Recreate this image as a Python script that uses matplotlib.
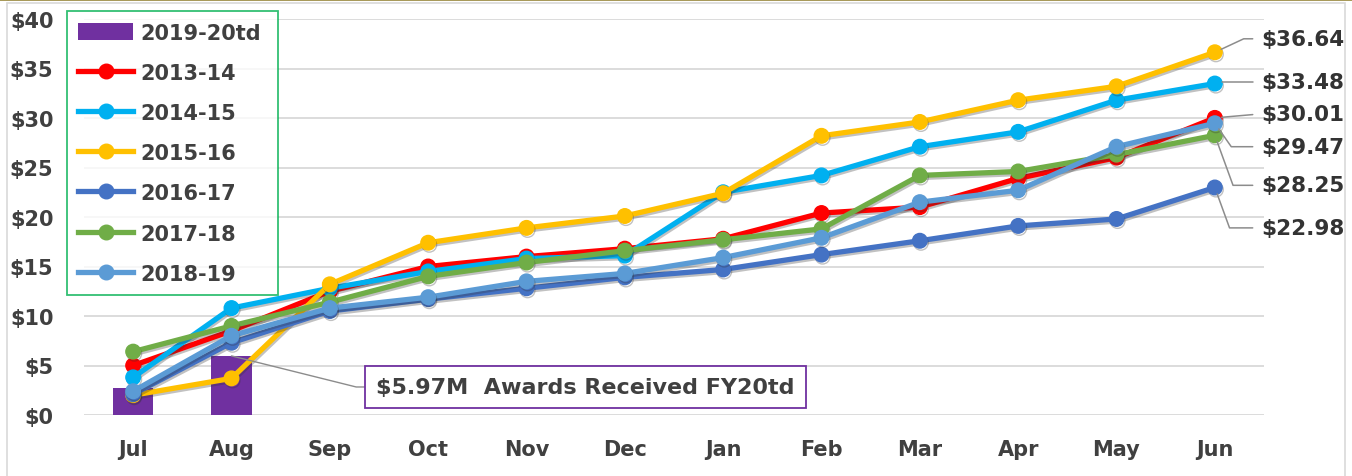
import matplotlib
matplotlib.use("Agg")
import matplotlib.pyplot as plt
import matplotlib.patheffects as pe
from matplotlib.lines import Line2D
from matplotlib.patches import Patch, Rectangle
import numpy as np

# --- données (millions $, cumul par mois de l'exercice) ---
months = ["Jul", "Aug", "Sep", "Oct", "Nov", "Dec", "Jan", "Feb", "Mar", "Apr", "May", "Jun"]

fy20_label = "2019-20td"
fy20_values = [2.7, 5.97]

fy14 = [5.0, 8.5, 12.5, 15.0, 16.0, 16.8, 17.8, 20.4, 21.0, 23.9, 26.0, 30.01]
fy15 = [3.8, 10.8, 12.8, 14.5, 15.8, 16.1, 22.5, 24.2, 27.1, 28.6, 31.8, 33.48]
fy16 = [2.0, 3.7, 13.2, 17.4, 18.9, 20.1, 22.4, 28.2, 29.6, 31.8, 33.2, 36.64]
fy17 = [2.1, 7.3, 10.5, 11.7, 12.8, 13.9, 14.7, 16.2, 17.6, 19.1, 19.8, 22.98]
fy18 = [6.4, 9.0, 11.4, 14.0, 15.4, 16.6, 17.7, 18.8, 24.2, 24.6, 26.3, 28.25]
fy19 = [2.4, 8.0, 10.8, 11.9, 13.5, 14.3, 15.9, 17.9, 21.5, 22.7, 27.1, 29.47]

series_labels = ["2013-14", "2014-15", "2015-16", "2016-17", "2017-18", "2018-19"]
series_values = [fy14, fy15, fy16, fy17, fy18, fy19]
series_colors = ["#FF0000", "#00B0F0", "#FFC000", "#4472C4", "#70AD47", "#5B9BD5"]
bar_color = "#7030A0"

box_text = "$5.97M  Awards Received FY20td"

# --- mise en page ---
TXT = "#404040"
plt.rcParams["font.family"] = ["DejaVu Sans"]
plt.rcParams["font.weight"] = "bold"

fig = plt.figure(figsize=(13.52, 4.77), dpi=100)
ax = fig.add_axes([84 / 1352, 61 / 477, 1180 / 1352, 396 / 477])

# cadre extérieur
fig.patches.append(Rectangle((7 / 1352, -0.1), 1338 / 1352, 1.0 - 4 / 477 + 0.1,
                             transform=fig.transFigure, fill=False, ec="#D9D9D9", lw=1.2))
fig.patches.append(Rectangle((0, 1 - 2 / 477), 1, 2 / 477, transform=fig.transFigure,
                             fc="#A89A5A", ec="none"))

x = np.arange(len(months))

ax.bar(x[:len(fy20_values)], fy20_values, width=0.41, color=bar_color, zorder=2)

shadow = [pe.SimpleLineShadow(offset=(0.8, -1.5), alpha=0.3, shadow_color="#333333"), pe.Normal()]
for vals, col in zip(series_values, series_colors):
    ax.plot(x, vals, color=col, lw=3.8, marker="o", ms=10.5, mfc=col,
            mec=col, mew=1, zorder=3, path_effects=shadow, solid_capstyle="round")

ax.set_xlim(-0.5, len(months) - 0.5)
ax.set_ylim(0, 40)
ax.set_yticks(np.arange(0, 41, 5))
ax.set_yticklabels([f"${v}" for v in range(0, 41, 5)])
ax.set_xticks(x)
ax.set_xticklabels(months)
ax.tick_params(axis="y", length=0, pad=22, labelsize=15, labelcolor=TXT)
ax.tick_params(axis="x", length=0, pad=17, labelsize=15, labelcolor=TXT)
ax.grid(axis="y", color="#D9D9D9", lw=1.3, zorder=0)
ax.set_axisbelow(True)
for s in ax.spines.values():
    s.set_visible(False)

# étiquettes des valeurs finales (juin)
end_text_y = [38.0, 33.6, 30.4, 27.1, 23.2, 18.9]
end_angles = [25, 10, 5, -55, -70, -70]
order = [2, 1, 0, 5, 4, 3]
for ty, ang, idx in zip(end_text_y, end_angles, order):
    v = series_values[idx][-1]
    ax.annotate(f"${v:.2f}", xy=(x[-1], v), xytext=(11.47, ty), textcoords="data",
                ha="left", va="center", fontsize=15.5, color="#333333",
                annotation_clip=False,
                arrowprops=dict(arrowstyle="-", color="#8C8C8C", lw=1.1, relpos=(0, 0.5),
                                shrinkA=4, shrinkB=5,
                                connectionstyle=f"angle,angleA=0,angleB={ang},rad=0"))

# encadré du total reçu
ax.annotate(box_text, xy=(1, fy20_values[1]), xytext=(4.6, 2.83), textcoords="data",
            ha="center", va="center", fontsize=16, color=TXT,
            bbox=dict(boxstyle="square,pad=0.5", fc="white", ec=bar_color, lw=1.3),
            arrowprops=dict(arrowstyle="-", color="#8C8C8C", lw=1, relpos=(0, 0.5),
                            shrinkA=0, shrinkB=0,
                            connectionstyle="angle,angleA=0,angleB=-14,rad=0"))

# légende
handles = [Patch(fc=bar_color, ec="none", label=fy20_label)]
for lab, col in zip(series_labels, series_colors):
    handles.append(Line2D([0], [0], color=col, lw=3.8, marker="o", ms=10.5, label=lab))
leg = ax.legend(handles=handles, loc="upper left",
                bbox_to_anchor=(-0.0144, 0.0, 0.1788, 1.02), mode="expand",
                fontsize=15, labelcolor=TXT, frameon=True, fancybox=False,
                handlelength=2.6, handleheight=0.9, labelspacing=0.97, borderpad=0.55,
                handletextpad=0.35, borderaxespad=0)
leg.get_frame().set_edgecolor("#00B050")
leg.get_frame().set_linewidth(1.3)
leg.set_zorder(5)

fig.savefig("out.png", dpi=100)
